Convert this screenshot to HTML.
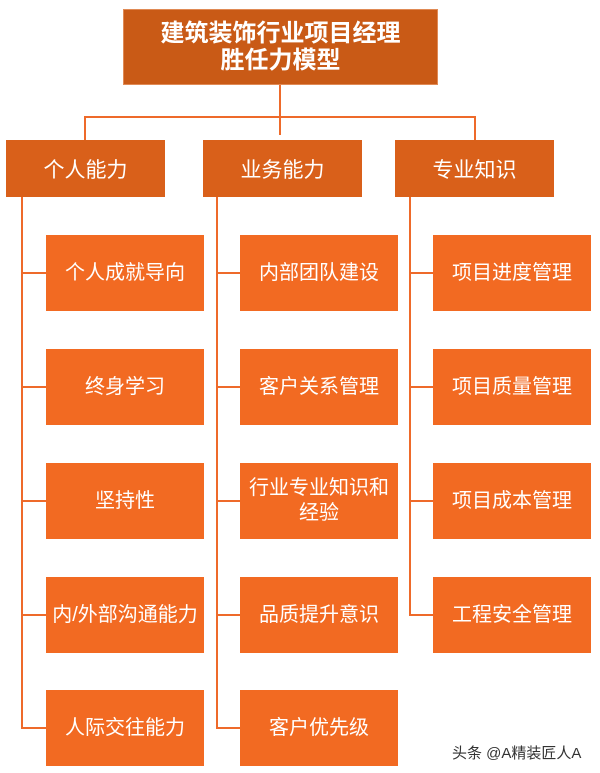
<!DOCTYPE html>
<html><head><meta charset="utf-8"><style>
body{margin:0;width:600px;height:773px;background:#fff;position:relative;overflow:hidden;font-family:"Liberation Sans","Noto Sans CJK SC",sans-serif}
.b{position:absolute;display:flex;align-items:center;justify-content:center;text-align:center;color:#fff;box-sizing:border-box}
.t{left:123px;top:9px;width:315px;height:76px;background:#c95a16;font-size:24px;font-weight:bold;line-height:27px;border:1px solid #e08a55}
.m{top:140px;width:159px;height:57px;background:#d9601a;font-size:21px}
.c{width:158px;height:76px;background:#f26a22;font-size:20px;line-height:25px}
.l{position:absolute;background:#ee6a2a}
.w{position:absolute;left:452px;top:742px;font-size:15px;color:#333;text-shadow:0 0 2px #fff,0 0 1px #fff}
</style></head><body>
<div class="b t">建筑装饰行业项目经理<br>胜任力模型</div>
<div class="l" style="left:279px;top:85px;width:2px;height:50px"></div>
<div class="l" style="left:84px;top:116px;width:392px;height:2px"></div>
<div class="l" style="left:84px;top:116px;width:2px;height:24px"></div>
<div class="l" style="left:474px;top:116px;width:2px;height:24px"></div>
<div class="b m" style="left:6px">个人能力</div>
<div class="b m" style="left:203px">业务能力</div>
<div class="b m" style="left:395px">专业知识</div>
<div class="l" style="left:21px;top:197px;width:2px;height:532px"></div>
<div class="l" style="left:216px;top:197px;width:2px;height:532px"></div>
<div class="l" style="left:409px;top:197px;width:2px;height:418px"></div>
<div class="l" style="left:21px;top:272px;width:25px;height:2px"></div>
<div class="l" style="left:21px;top:386px;width:25px;height:2px"></div>
<div class="l" style="left:21px;top:500px;width:25px;height:2px"></div>
<div class="l" style="left:21px;top:614px;width:25px;height:2px"></div>
<div class="l" style="left:21px;top:727px;width:25px;height:2px"></div>
<div class="l" style="left:216px;top:272px;width:24px;height:2px"></div>
<div class="l" style="left:216px;top:386px;width:24px;height:2px"></div>
<div class="l" style="left:216px;top:500px;width:24px;height:2px"></div>
<div class="l" style="left:216px;top:614px;width:24px;height:2px"></div>
<div class="l" style="left:216px;top:727px;width:24px;height:2px"></div>
<div class="l" style="left:409px;top:272px;width:24px;height:2px"></div>
<div class="l" style="left:409px;top:386px;width:24px;height:2px"></div>
<div class="l" style="left:409px;top:500px;width:24px;height:2px"></div>
<div class="l" style="left:409px;top:614px;width:24px;height:2px"></div>
<div class="b c" style="left:46px;top:235px">个人成就导向</div>
<div class="b c" style="left:46px;top:349px">终身学习</div>
<div class="b c" style="left:46px;top:463px">坚持性</div>
<div class="b c" style="left:46px;top:577px">内/外部沟通能力</div>
<div class="b c" style="left:46px;top:690px">人际交往能力</div>
<div class="b c" style="left:240px;top:235px">内部团队建设</div>
<div class="b c" style="left:240px;top:349px">客户关系管理</div>
<div class="b c" style="left:240px;top:463px">行业专业知识和<br>经验</div>
<div class="b c" style="left:240px;top:577px">品质提升意识</div>
<div class="b c" style="left:240px;top:690px">客户优先级</div>
<div class="b c" style="left:433px;top:235px">项目进度管理</div>
<div class="b c" style="left:433px;top:349px">项目质量管理</div>
<div class="b c" style="left:433px;top:463px">项目成本管理</div>
<div class="b c" style="left:433px;top:577px">工程安全管理</div>
<div class="w">头条 @A精装匠人A</div>
</body></html>
